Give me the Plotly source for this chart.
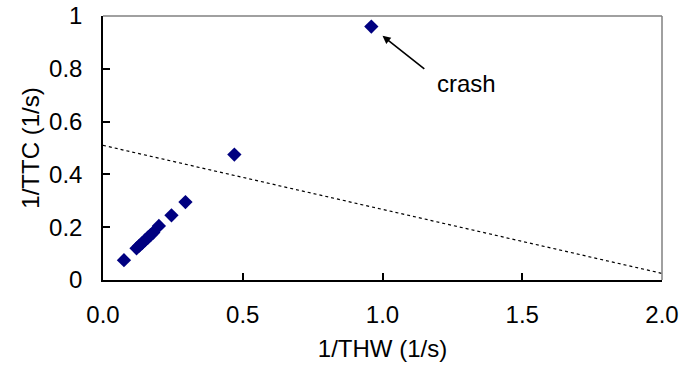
import plotly.graph_objects as go

# Inverse time headway vs inverse time-to-collision samples (1/s)
inv_thw = [0.075, 0.12, 0.13, 0.14, 0.15, 0.16, 0.17, 0.18, 0.20, 0.245, 0.295, 0.47, 0.96]
inv_ttc = [0.075, 0.12, 0.13, 0.14, 0.15, 0.16, 0.17, 0.18, 0.205, 0.245, 0.295, 0.475, 0.96]

# Decision boundary (dotted)
boundary_x = [0.0, 2.0]
boundary_y = [0.51, 0.025]

x_ticks = [0.0, 0.5, 1.0, 1.5, 2.0]
y_ticks = [0, 0.2, 0.4, 0.6, 0.8, 1]

FONT = "Liberation Sans, Arial, sans-serif"
FS = 24

fig = go.Figure()
fig.add_trace(go.Scatter(
    x=boundary_x, y=boundary_y, mode="lines",
    line=dict(color="black", width=1.2, dash="dot"),
    hoverinfo="skip", showlegend=False,
))
fig.add_trace(go.Scatter(
    x=inv_thw, y=inv_ttc, mode="markers",
    marker=dict(symbol="diamond", size=11, color="#000080"),
    showlegend=False,
))

# Arrow pointing at the crash sample, and its label
fig.add_annotation(
    x=1.0, y=0.925, ax=1.155, ay=0.795, xref="x", yref="y", axref="x", ayref="y",
    text="", showarrow=True, arrowhead=2, arrowsize=1, arrowwidth=1.6,
    arrowcolor="black",
)
fig.add_annotation(
    x=1.30, y=0.745, xref="x", yref="y", text="crash", showarrow=False,
    font=dict(family=FONT, size=FS, color="black"),
)

# Grey frame on top and right
fig.add_shape(type="line", xref="x domain", yref="y domain", x0=0, x1=1, y0=1, y1=1,
              line=dict(color="#808080", width=1.5))
fig.add_shape(type="line", xref="x domain", yref="y domain", x0=1, x1=1, y0=0, y1=1,
              line=dict(color="#808080", width=1.5))

fig.update_xaxes(
    range=[0, 2], tickvals=x_ticks, tickformat=".1f", automargin=False,
    showgrid=False, zeroline=False, showline=True, linecolor="black", linewidth=1.5,
    ticks="inside", ticklen=7, tickcolor="black", tickwidth=1.5,
    ticklabelstandoff=12,
    tickfont=dict(family=FONT, size=FS, color="black"),
    title=dict(text="1/THW (1/s)", font=dict(family=FONT, size=FS, color="black"), standoff=14),
)
fig.update_yaxes(
    range=[0, 1], tickvals=y_ticks, automargin=False,
    showgrid=False, zeroline=False, showline=True, linecolor="black", linewidth=1.5,
    ticks="inside", ticklen=7, tickcolor="black", tickwidth=1.5,
    ticklabelstandoff=14,
    tickfont=dict(family=FONT, size=FS, color="black"),
    title=dict(text="1/TTC (1/s)", font=dict(family=FONT, size=FS, color="black"), standoff=3),
)

fig.update_layout(
    width=679, height=378,
    margin=dict(l=103, r=17, t=16, b=98),
    plot_bgcolor="white", paper_bgcolor="white",
)

fig.write_html("out.html")
